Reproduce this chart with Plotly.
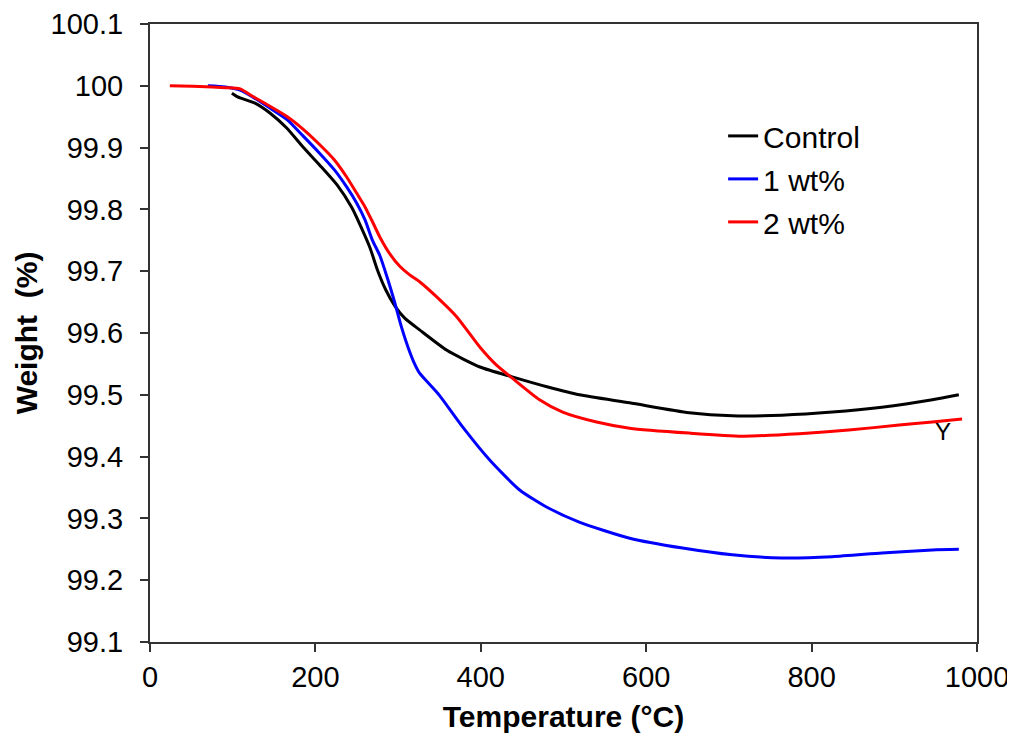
import plotly.graph_objects as go

# ---- data ----
control_T = [99, 106, 127, 145, 165, 185, 205, 226, 244, 254, 266, 275, 285, 296,
             308, 326, 359, 399, 438, 480, 519, 580, 652, 704, 764, 825, 885, 946, 978]
control_W = [99.988, 99.982, 99.972, 99.956, 99.932, 99.901, 99.872, 99.840, 99.803,
             99.775, 99.738, 99.702, 99.670, 99.644, 99.624, 99.605, 99.572, 99.545,
             99.529, 99.513, 99.500, 99.487, 99.471, 99.466, 99.467, 99.472, 99.480,
             99.492, 99.500]

wt1_T = [70, 91, 109, 124, 145, 166, 185, 205, 223, 238, 250, 260, 269, 278, 287,
         296, 304, 312, 319, 326, 338, 350, 378, 411, 447, 480, 519, 580, 644, 704,
         764, 825, 885, 946, 978]
wt1_W = [100.0, 99.998, 99.993, 99.982, 99.964, 99.945, 99.919, 99.891, 99.864,
         99.836, 99.810, 99.783, 99.750, 99.725, 99.689, 99.649, 99.610, 99.577,
         99.553, 99.535, 99.517, 99.499, 99.448, 99.394, 99.346, 99.318, 99.294,
         99.268, 99.252, 99.241, 99.236, 99.238, 99.244, 99.249, 99.250]

wt2_T = [24, 60, 91, 109, 124, 145, 166, 185, 205, 223, 238, 250, 260, 269, 278,
         290, 302, 314, 326, 347, 371, 399, 419, 438, 471, 499, 540, 580, 652, 716,
         785, 845, 906, 946, 982]
wt2_W = [100.0, 99.999, 99.997, 99.995, 99.983, 99.967, 99.950, 99.930, 99.905,
         99.880, 99.852, 99.826, 99.804, 99.780, 99.755, 99.728, 99.708, 99.694,
         99.683, 99.658, 99.626, 99.577, 99.548, 99.527, 99.492, 99.472, 99.456,
         99.446, 99.438, 99.433, 99.437, 99.443, 99.451, 99.456, 99.461]

series_names = ["Control", "1 wt%", "2 wt%"]
series_colors = ["#000000", "#0000FF", "#FF0000"]

x_tickvals = [0, 200, 400, 600, 800, 1000]
y_tickvals = [99.1, 99.2, 99.3, 99.4, 99.5, 99.6, 99.7, 99.8, 99.9, 100.0, 100.1]
y_ticktext = ["99.1", "99.2", "99.3", "99.4", "99.5", "99.6", "99.7", "99.8",
              "99.9", "100", "100.1"]

marker_label = "Y"
marker_T = 959
marker_W = 99.441

FONT = "Arial, 'Liberation Sans', sans-serif"

fig = go.Figure()
for name, color, xs, ys in zip(series_names, series_colors,
                               [control_T, wt1_T, wt2_T],
                               [control_W, wt1_W, wt2_W]):
    fig.add_trace(go.Scatter(
        x=xs, y=ys, mode="lines", name=name, legendgroup=name,
        line=dict(color=color, width=3, shape="spline", smoothing=0.6),
    ))

fig.add_annotation(x=marker_T, y=marker_W, text=marker_label, showarrow=False,
                   font=dict(family=FONT, size=24, color="#000000"))

axis_common = dict(
    showline=True, linecolor="#333333", linewidth=2, mirror=True,
    ticks="outside", ticklen=8, tickwidth=2, tickcolor="#333333",
    showgrid=False, zeroline=False, automargin=False,
    tickfont=dict(family=FONT, size=29, color="#000000"),
)

# page body has an 8px default margin, so the figure is sized/offset to compensate
fig.update_layout(
    width=1007, height=726,
    margin=dict(l=142, r=38, t=16, b=92),
    paper_bgcolor="white", plot_bgcolor="white",
    font=dict(family=FONT, color="#000000"),
    xaxis=dict(range=[0, 1000], tickvals=x_tickvals,
               title=dict(text="<b>Temperature (°C)</b>", font=dict(family=FONT, size=30),
                          standoff=14),
               **axis_common),
    yaxis=dict(range=[99.1, 100.1], tickvals=y_tickvals, ticktext=y_ticktext,
               ticklabelstandoff=11,
               title=dict(text="<b>Weight\u00a0 (%)</b>", font=dict(family=FONT, size=30),
                          standoff=4),
               **axis_common),
    legend=dict(x=0.693, y=0.861, xanchor="left", yanchor="top",
                font=dict(family=FONT, size=30), tracegroupgap=1,
                bgcolor="rgba(0,0,0,0)", borderwidth=0),
    showlegend=True,
)

fig.write_html("out.html")
